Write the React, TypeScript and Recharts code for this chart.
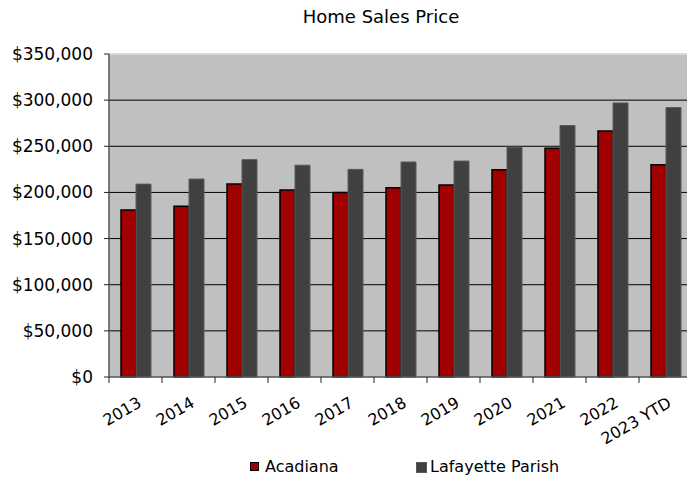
import React from 'react';
import { BarChart, Bar, XAxis, YAxis, CartesianGrid, Legend, ReferenceLine } from 'recharts';

const categories = ['2013', '2014', '2015', '2016', '2017', '2018', '2019', '2020', '2021', '2022', '2023 YTD'];
const acadiana = [181000, 185000, 209000, 202500, 200000, 205000, 208000, 224500, 248000, 266500, 230000];
const lafayette = [209000, 214500, 235500, 229500, 225000, 233000, 234000, 249000, 272500, 297000, 292000];
const yTicks = [0, 50000, 100000, 150000, 200000, 250000, 300000, 350000];
const gridValues = [50000, 100000, 150000, 200000, 250000, 300000];

const data = categories.map((c, i) => ({ year: c, Acadiana: acadiana[i], 'Lafayette Parish': lafayette[i] }));

const FONT = '"DejaVu Sans", sans-serif';

const fmt = (v: number) => '$' + v.toLocaleString('en-US');

const XTick = (props: any) => {
  const { x, y, payload, index } = props;
  const half = payload && payload.offset ? payload.offset : 26.5;
  const px = x + 7;
  const py = y + 29;
  return (
    <g>
      <line x1={x - half} y1={y} x2={x - half} y2={y + 6} stroke="#222" strokeWidth={1} />
      {index === categories.length - 1 ? (
        <line x1={x + half} y1={y} x2={x + half} y2={y + 6} stroke="#222" strokeWidth={1} />
      ) : null}
      <text x={px} y={py} textAnchor="end" transform={`rotate(-30, ${px}, ${py})`} fontFamily={FONT} fontSize={16} fill="#000">
        {payload.value}
      </text>
    </g>
  );
};

const LegendContent = () => (
  <div style={{ position: 'relative', height: 24, width: 700, fontFamily: FONT, fontSize: 16, color: '#000' }}>
    <div style={{ position: 'absolute', left: 250, top: 5, width: 7, height: 7, background: '#a00000', border: '1.5px solid #000' }} />
    <div style={{ position: 'absolute', left: 265, top: 1, lineHeight: '18px' }}>Acadiana</div>
    <div style={{ position: 'absolute', left: 416, top: 5, width: 9, height: 9, background: '#404040', border: '0.5px solid #5a5a5a' }} />
    <div style={{ position: 'absolute', left: 430, top: 1, lineHeight: '18px' }}>Lafayette Parish</div>
  </div>
);

export default function App() {
  return (
    <div style={{ position: 'absolute', left: 0, top: 0, width: 687, height: 481, overflow: 'hidden', background: '#fff' }}>
      <div style={{ position: 'absolute', left: 0, top: 6, width: 762, textAlign: 'center', fontFamily: FONT, fontSize: 18, color: '#000' }}>
        Home Sales Price
      </div>
      <BarChart width={700} height={481} data={data} margin={{ top: 54, right: 8, left: 0, bottom: 0 }} barSize={15} barGap={0}>
        <CartesianGrid vertical={false} horizontalValues={gridValues} stroke="#000" strokeWidth={1} fill="#c0c0c0" fillOpacity={1} />
        <ReferenceLine y={350000} stroke="#cfdbe3" strokeWidth={2} ifOverflow="extendDomain" />
        <XAxis dataKey="year" height={80} tickSize={0} tickMargin={0} tickLine={false} axisLine={{ stroke: '#555', strokeWidth: 1.5 }} tick={<XTick />} interval={0} />
        <YAxis
          width={109}
          domain={[0, 350000]}
          ticks={yTicks}
          tickFormatter={fmt}
          tickSize={5}
          tickMargin={11}
          tickLine={{ stroke: '#222' }}
          axisLine={{ stroke: '#555', strokeWidth: 1.5 }}
          tick={{ fontFamily: FONT, fontSize: 17, fill: '#000' }}
          interval={0}
        />
        <Legend verticalAlign="bottom" content={<LegendContent />} wrapperStyle={{ left: 0, width: 700 }} />
        <Bar dataKey="Acadiana" fill="#a00000" stroke="#000" strokeWidth={1.5} isAnimationActive={false} />
        <Bar dataKey="Lafayette Parish" fill="#404040" stroke="#5a5a5a" strokeWidth={1} isAnimationActive={false} />
      </BarChart>
    </div>
  );
}
